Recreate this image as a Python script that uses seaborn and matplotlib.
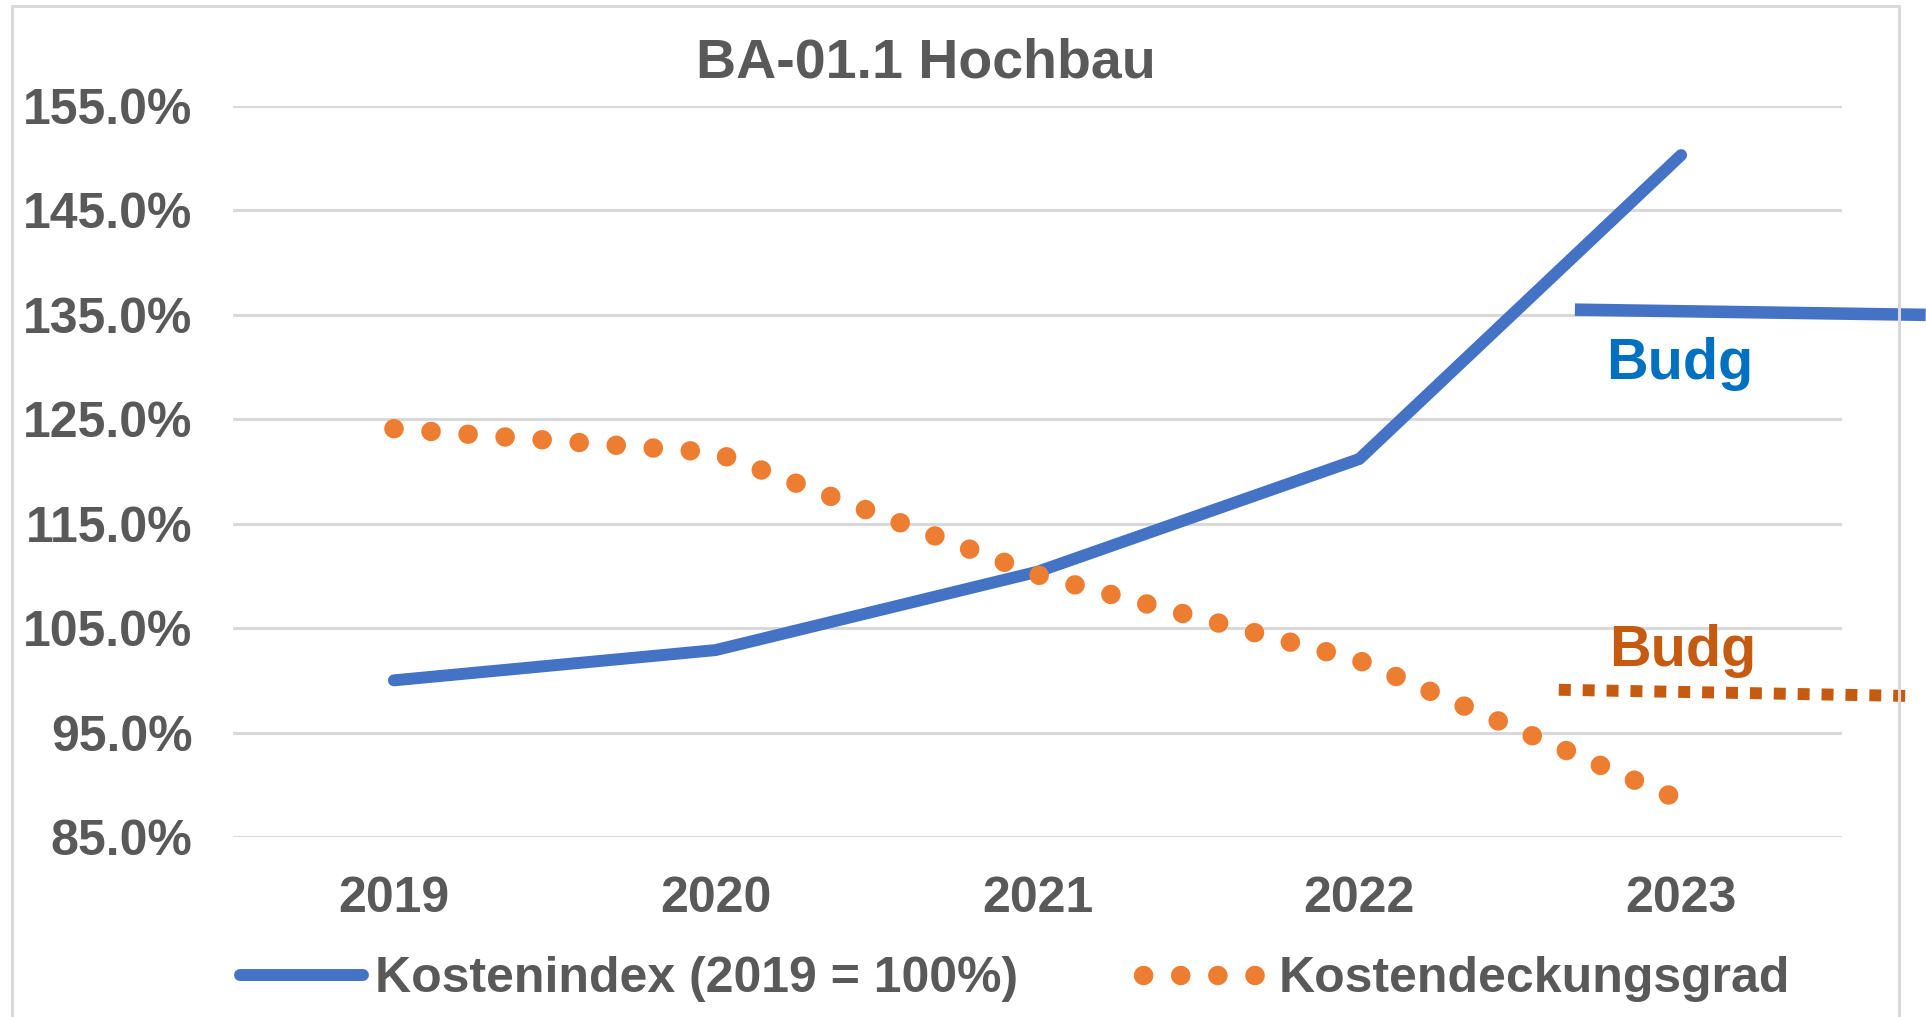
import matplotlib
matplotlib.use("Agg")
import matplotlib.pyplot as plt
import seaborn as sns
import pandas as pd
from matplotlib.patches import Rectangle
from matplotlib.lines import Line2D

# ---- data ----
years = ["2019", "2020", "2021", "2022", "2023"]
kostenindex = [100.0, 102.9, 110.4, 121.2, 150.3]
kostendeckung = [124.1, 121.8, 110.1, 101.9, 88.5]
y_ticks = [85, 95, 105, 115, 125, 135, 145, 155]
title = "BA-01.1 Hochbau"
label_index = "Kostenindex (2019 = 100%)"
label_deckung = "Kostendeckungsgrad"
budget_label = "Budg"
budget_x = [3.67, 4.76]
budget_index = [135.5, 135.0]
budget_deckung = [99.1, 98.5]

BLUE = "#4472C4"
ORANGE = "#ED7D31"
GRAY = "#595959"
GRID = "#D9D9D9"
DOTS = (0.01, 1.97)

sns.set_theme(style="white")
plt.rcParams["font.family"] = ["Liberation Sans", "DejaVu Sans"]
plt.rcParams["font.weight"] = "bold"

df = pd.DataFrame({"Jahr": years, "Kostenindex": kostenindex, "Kostendeckungsgrad": kostendeckung})

fig = plt.figure(figsize=(19.26, 10.17), dpi=100)
ax = fig.add_axes([233/1926, 1-837/1017, (1842-233)/1926, (837-106)/1017])

sns.lineplot(data=df, x="Jahr", y="Kostenindex", ax=ax, color=BLUE, linewidth=8.6,
             solid_capstyle="round", legend=False, zorder=3)
sns.lineplot(data=df, x="Jahr", y="Kostendeckungsgrad", ax=ax, color=ORANGE, linewidth=14,
             legend=False, zorder=3)
ax.lines[1].set_dashes((0.01, 1.9))
ax.lines[1].set_dash_capstyle("round")

ax.set_xlim(-0.5, 4.5)
ax.set_ylim(85, 155)
ax.set_yticks(y_ticks)
ax.set_yticklabels([f"{v:.1f}%" for v in y_ticks])
ax.grid(axis="y", color=GRID, linewidth=2.2)
ax.grid(axis="x", visible=False)
for s in ax.spines.values():
    s.set_visible(False)
ax.tick_params(axis="y", length=0, pad=29, labelsize=36, labelcolor=GRAY)
ax.tick_params(axis="x", length=0, pad=28, labelsize=36, labelcolor=GRAY)
for t in ax.get_xticklabels() + ax.get_yticklabels():
    t.set_fontweight("bold")
ax.set_xlabel("")
ax.set_ylabel("")

# budget lines
ax.plot(budget_x, budget_index, color=BLUE, linewidth=9, solid_capstyle="butt",
        clip_on=False, zorder=4)
bl, = ax.plot([budget_x[0] - 0.05, budget_x[1] - 0.04], budget_deckung, color="#C55A11",
              linewidth=8.6, clip_on=False, zorder=4)
bl.set_dashes((1, 1))
bl.set_dash_capstyle("butt")
ax.text(3.995, 130.3, budget_label, color="#0070C0", fontsize=41.5, fontweight="bold",
        ha="center", va="center")
ax.text(4.005, 102.8, budget_label, color="#C55A11", fontsize=41.5, fontweight="bold",
        ha="center", va="center")

# title
fig.text(926/1926, 1-64/1017, title, color=GRAY, fontsize=40, fontweight="bold",
         ha="center", va="center")

# legend
h1 = Line2D([], [], color=BLUE, linewidth=8.6, solid_capstyle="round")
h2 = Line2D([], [], color=ORANGE, linewidth=14, dashes=(0.01, 1.9), dash_capstyle="round")
leg = fig.legend([h1, h2], [label_index, label_deckung], loc="center left",
                 bbox_to_anchor=(240/1926, 1-979/1017), ncol=2, frameon=False,
                 fontsize=36, handlelength=2.45, handletextpad=0.25, columnspacing=2.5,
                 borderpad=0, borderaxespad=0)
for t in leg.get_texts():
    t.set_color(GRAY)
    t.set_fontweight("bold")

# chart border
fig.patches.append(Rectangle((12/1926, -0.05), (1899-12)/1926, 1-6/1017+0.05,
                             transform=fig.transFigure, fill=False, edgecolor=GRID,
                             linewidth=2.2, zorder=0))

fig.savefig("out.png", dpi=100, facecolor="white")
